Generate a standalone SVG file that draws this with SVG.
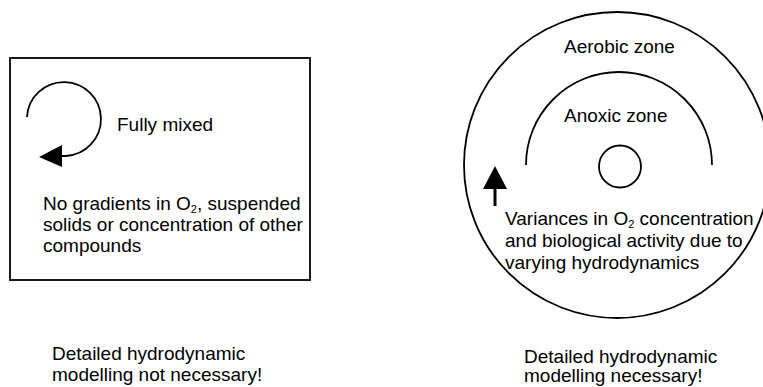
<svg xmlns="http://www.w3.org/2000/svg" width="763" height="387" viewBox="0 0 763 387">
<style>
.t{font-family:"Liberation Sans",Arial,sans-serif;font-size:19px;fill:#000}
.sub{font-size:11px}
.ln{fill:none;stroke:#000;stroke-width:1.8}
</style>
<rect width="763" height="387" fill="#fff"/>
<g id="mixed-box">
<rect x="10" y="58" width="300" height="222" class="ln" stroke-width="2"/>
<text class="t" x="117" y="131">Fully mixed</text>
<text class="t" x="43" y="210">No gradients in O<tspan class="sub" dy="3">2</tspan><tspan dy="-3">, suspended</tspan></text>
<text class="t" x="43" y="231">solids or concentration of other</text>
<text class="t" x="43" y="252">compounds</text>
</g>
<g id="mixing-arrow">
<path class="ln" d="M27,117 A37,37 0 1 1 66,156 L60,156"/>
<polygon points="39,157 62,145 62,167" fill="#000"/>
</g>
<g id="zoned-tank">
<circle cx="617" cy="165" r="153" class="ln"/>
<path class="ln" d="M526,165 A93,93 0 0 1 712,165"/>
<circle cx="620" cy="166.5" r="21" class="ln"/>
<text class="t" x="564" y="53">Aerobic zone</text>
<text class="t" x="564" y="122">Anoxic zone</text>
<text class="t" x="505" y="225">Variances in O<tspan class="sub" dy="3">2</tspan><tspan dy="-3"> concentration</tspan></text>
<text class="t" x="505" y="247">and biological activity due to</text>
<text class="t" x="505" y="269">varying hydrodynamics</text>
</g>
<g id="flow-arrow">
<line x1="495" y1="186" x2="495" y2="206" stroke="#000" stroke-width="3"/>
<polygon points="495,166 483,189 507,189" fill="#000"/>
</g>
<g id="captions">
<text class="t" x="52" y="360">Detailed hydrodynamic</text>
<text class="t" x="52" y="381">modelling not necessary!</text>
<text class="t" x="524" y="363">Detailed hydrodynamic</text>
<text class="t" x="524" y="382">modelling necessary!</text>
</g>
</svg>
